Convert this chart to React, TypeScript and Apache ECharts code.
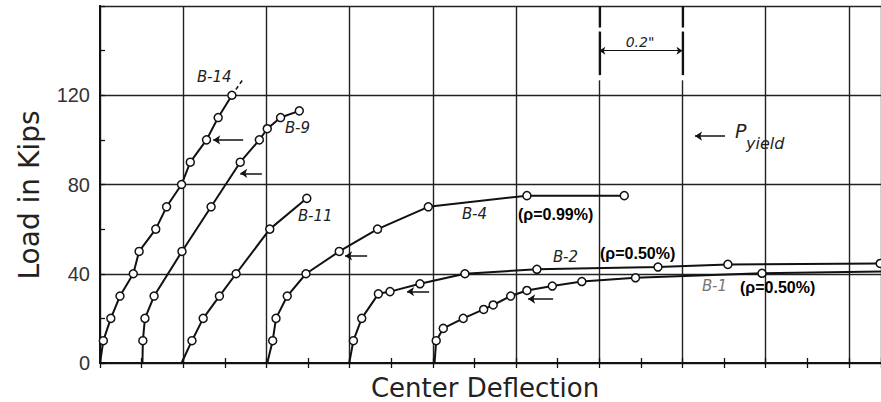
import React, { useEffect, useRef } from "react";
import * as echarts from "echarts";

// Center deflection (in) and load (kips)
const B14_X = [0, 0.008, 0.026, 0.048, 0.08, 0.094, 0.134, 0.16, 0.196, 0.217, 0.256, 0.284, 0.317];
const B14_Y = [0, 10, 20, 30, 40, 50, 60, 70, 80, 90, 100, 110, 120];
const B14_EXT_X = [0.317, 0.343];
const B14_EXT_Y = [120, 127];

const B9_X = [0.102, 0.103, 0.108, 0.13, 0.197, 0.267, 0.337, 0.383, 0.402, 0.434, 0.479];
const B9_Y = [0, 10, 20, 30, 50, 70, 90, 100, 105, 110, 113];

const B11_X = [0.196, 0.221, 0.248, 0.287, 0.327, 0.408, 0.497];
const B11_Y = [0, 10, 20, 30, 40, 60, 73.8];

const B4_X = [0.402, 0.415, 0.423, 0.45, 0.495, 0.575, 0.667, 0.789, 1.026, 1.26];
const B4_Y = [0, 10, 20, 30, 40, 50, 60, 70, 75, 75];

const B2_X = [0.599, 0.609, 0.629, 0.669, 0.697, 0.769, 0.877, 1.05, 1.341, 1.509, 1.875];
const B2_Y = [0, 10, 20, 31, 32, 35.5, 40, 42, 43, 44.2, 44.6];

const B1_X = [0.804, 0.808, 0.825, 0.873, 0.922, 0.945, 0.987, 1.026, 1.087, 1.158, 1.287, 1.591, 1.877];
const B1_Y = [0, 10, 15.5, 20, 24, 26, 30, 32.5, 34.5, 36.5, 38.2, 40.2, 41];

// Yield-load arrows: [xFrom, xTo, load]
const YIELD_B14 = [0.344, 0.272, 100];
const YIELD_B9 = [0.389, 0.337, 85];
const YIELD_B4 = [0.642, 0.589, 48];
const YIELD_B2 = [0.791, 0.738, 32];
const YIELD_B1 = [1.089, 1.029, 28.7];
const YIELD_KEY = [1.502, 1.43, 101.7];

const Y_TICKS = [0, 40, 80, 120];
const X_MAX = 1.877;

const INK = "#111";

function pts(xs: number[], ys: number[], bare: number[]) {
  return xs.map((x, i) =>
    bare.includes(i) ? { value: [x, ys[i]], symbol: "none" } : { value: [x, ys[i]] }
  );
}

function arrow(a: number[]) {
  return [{ coord: [a[0], a[2]] }, { coord: [a[1], a[2]] }];
}

function seg(x1: number, y1: number, x2: number, y2: number, color: string, width: number) {
  return [
    { coord: [x1, y1], lineStyle: { color, width, type: "solid" } },
    { coord: [x2, y2] },
  ];
}

export default function App() {
  const ref = useRef<HTMLDivElement>(null);

  useEffect(() => {
    if (!ref.current) return;
    const chart = echarts.init(ref.current, undefined, { renderer: "svg" });

    const lineSeries = (name: string, data: any[], marks: any[]) => ({
      name,
      type: "line",
      data,
      symbol: "circle",
      symbolSize: 8,
      itemStyle: { color: "#fff", borderColor: INK, borderWidth: 1.5 },
      lineStyle: { color: INK, width: 2 },
      z: 5,
      markLine: {
        silent: true,
        symbol: ["none", "arrow"],
        symbolSize: 7,
        label: { show: false },
        lineStyle: { color: INK, width: 1.5, type: "solid" },
        data: marks,
      },
    });

    const xBase = {
      type: "value",
      min: 0,
      max: X_MAX,
      axisLabel: { show: false },
      axisLine: { show: true, lineStyle: { color: INK, width: 2 } },
    };
    const xTicks = (position: string) => ({
      ...xBase,
      position,
      interval: 0.1,
      axisTick: { show: true, inside: true, length: 5, lineStyle: { color: INK, width: 1.3 } },
      splitLine: { show: false },
    });
    const yBase = {
      type: "value",
      min: 0,
      max: 160,
      position: "left",
      axisLine: { show: true, lineStyle: { color: INK, width: 2 } },
    };

    const option: any = {
      animation: false,
      backgroundColor: "#fff",
      grid: { left: 100, right: 0, top: 6, bottom: 39, containLabel: false },
      xAxis: [
        {
          ...xBase,
          position: "bottom",
          interval: 0.2,
          axisTick: { show: false },
          splitLine: { show: true, lineStyle: { color: "#222", width: 1.4 } },
        },
        xTicks("top"),
        xTicks("bottom"),
      ],
      yAxis: [
        {
          ...yBase,
          interval: 40,
          axisTick: { show: false },
          splitLine: { show: true, lineStyle: { color: "#222", width: 1.4 } },
          axisLabel: {
            margin: 10,
            fontSize: 20,
            fontFamily: "Liberation Sans",
            color: "#333",
            formatter: (v: number) => (Y_TICKS.includes(v) ? String(v) : ""),
          },
        },
        {
          ...yBase,
          interval: 20,
          axisTick: { show: true, inside: true, length: 5, lineStyle: { color: INK, width: 1.3 } },
          splitLine: { show: false },
          axisLabel: { show: false },
        },
      ],
      series: [
        lineSeries("B-14", pts(B14_X, B14_Y, [0]), [arrow(YIELD_B14)]),
        {
          name: "B-14 ext",
          type: "line",
          data: B14_EXT_X.map((x, i) => [x, B14_EXT_Y[i]]),
          symbol: "none",
          lineStyle: { color: INK, width: 1.5, type: [4, 3] },
          z: 4,
        },
        lineSeries("B-9", pts(B9_X, B9_Y, [0]), [arrow(YIELD_B9)]),
        lineSeries("B-11", pts(B11_X, B11_Y, [0]), []),
        lineSeries("B-4", pts(B4_X, B4_Y, [0]), [arrow(YIELD_B4)]),
        lineSeries("B-2", pts(B2_X, B2_Y, [0]), [arrow(YIELD_B2)]),
        lineSeries("B-1", pts(B1_X, B1_Y, [0, B1_X.length - 1]), [
          arrow(YIELD_B1),
          arrow(YIELD_KEY),
        ]),
        {
          name: "dimension",
          type: "line",
          data: [],
          markLine: {
            silent: true,
            symbol: ["arrow", "arrow"],
            symbolSize: 6,
            label: { show: false },
            lineStyle: { color: INK, width: 1.2, type: "solid" },
            data: [[{ coord: [1.2, 140] }, { coord: [1.4, 140] }]],
          },
        },
        {
          name: "extension",
          type: "line",
          data: [],
          z: 3,
          markLine: {
            silent: true,
            symbol: ["none", "none"],
            label: { show: false },
            data: [
              seg(1.2, 160, 1.2, 150.3, INK, 2.2),
              seg(1.2, 150.3, 1.2, 148.5, "#fff", 3),
              seg(1.2, 148.5, 1.2, 129, INK, 2.2),
              seg(1.2, 129, 1.2, 126.7, "#fff", 3),
              seg(1.4, 160, 1.4, 150.3, INK, 2.2),
              seg(1.4, 150.3, 1.4, 148.5, "#fff", 3),
              seg(1.4, 148.5, 1.4, 129, INK, 2.2),
              seg(1.4, 129, 1.4, 126.7, "#fff", 3),
            ],
          },
        },
      ],
      graphic: [
        {
          type: "text",
          x: 29,
          y: 195,
          rotation: Math.PI / 2,
          style: {
            text: "Load in Kips",
            fontSize: 28,
            fontFamily: "DejaVu Sans",
            fill: "#222",
            align: "center",
            verticalAlign: "middle",
          },
        },
        {
          type: "text",
          x: 485,
          y: 388,
          style: {
            text: "Center Deflection",
            fontSize: 26,
            fontFamily: "DejaVu Sans",
            fill: "#222",
            align: "center",
            verticalAlign: "middle",
          },
        },
        ...[
          ["B-14", 197, 77],
          ["B-9", 285, 128],
          ["B-11", 298, 216],
          ["B-4", 462, 214],
          ["B-2", 553, 257],
        ].map(([t, x, y]) => ({
          type: "text",
          x,
          y,
          style: {
            text: t,
            fontSize: 15,
            fontStyle: "italic",
            fontFamily: "DejaVu Sans",
            fill: "#222",
            align: "left",
            verticalAlign: "middle",
          },
        })),
        {
          type: "text",
          x: 702,
          y: 286,
          style: {
            text: "B-1",
            fontSize: 15,
            fontStyle: "italic",
            fontFamily: "DejaVu Sans",
            fill: "#777",
            align: "left",
            verticalAlign: "middle",
          },
        },
        ...[
          [518, 214],
          [600, 253],
          [740, 287],
        ].map(([x, y], i) => ({
          type: "text",
          x,
          y,
          z: 10,
          style: {
            text: i === 0 ? "(ρ=0.99%)" : "(ρ=0.50%)",
            fontSize: 16,
            fontWeight: "bold",
            fontFamily: "Liberation Sans",
            fill: "#000",
            align: "left",
            verticalAlign: "middle",
          },
        })),
        {
          type: "text",
          x: 640,
          y: 42,
          style: {
            text: '0.2"',
            fontSize: 14,
            fontStyle: "italic",
            fontFamily: "DejaVu Sans",
            fill: "#222",
            align: "center",
            verticalAlign: "middle",
          },
        },
        {
          type: "text",
          x: 735,
          y: 131,
          style: {
            text: "P",
            fontSize: 19,
            fontStyle: "italic",
            fontFamily: "DejaVu Sans",
            fill: "#222",
            align: "left",
            verticalAlign: "middle",
          },
        },
        {
          type: "text",
          x: 746,
          y: 143,
          style: {
            text: "yield",
            fontSize: 16,
            fontStyle: "italic",
            fontFamily: "DejaVu Sans",
            fill: "#222",
            align: "left",
            verticalAlign: "middle",
          },
        },
      ],
    };

    chart.setOption(option);
    return () => chart.dispose();
  }, []);

  return (
    <div
      ref={ref}
      style={{ position: "fixed", left: 0, top: 0, width: 881, height: 402, background: "#fff" }}
    />
  );
}
